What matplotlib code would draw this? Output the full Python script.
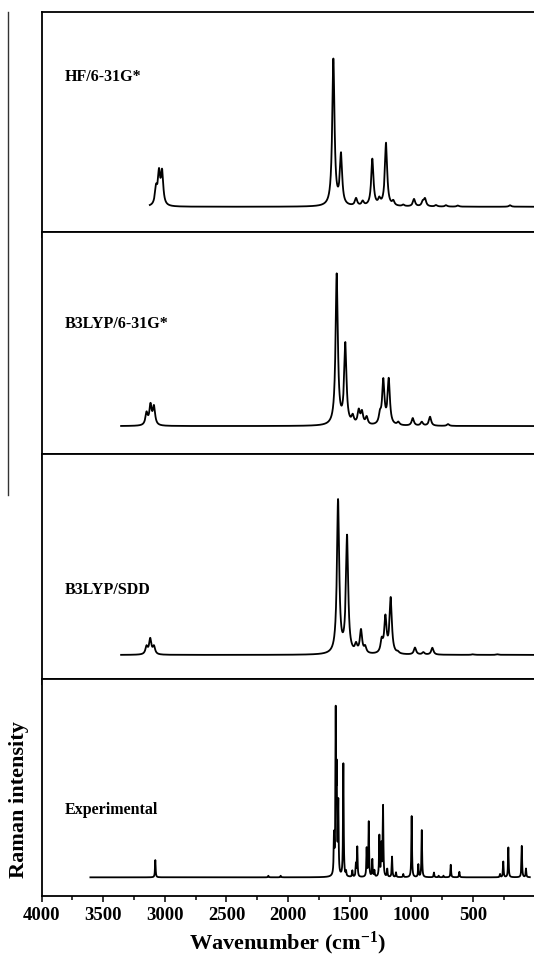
import numpy as np
import matplotlib.pyplot as plt
from matplotlib.lines import Line2D
from matplotlib.ticker import MultipleLocator

plt.rcParams['font.family'] = ['Liberation Serif', 'DejaVu Serif']
plt.rcParams['font.weight'] = 'bold'
plt.rcParams['mathtext.fontset'] = 'custom'
plt.rcParams['mathtext.rm'] = 'Liberation Serif:bold'
plt.rcParams['mathtext.default'] = 'rm'

# peak tables: centre (cm-1), relative height
hf_pos = [3071, 3047, 3022, 1633, 1571, 1449, 1395, 1317, 1260, 1206, 1147, 1066,
          979, 908, 890, 800, 719, 623, 200]
hf_amp = [0.11, 0.21, 0.22, 1.0, 0.34, 0.05, 0.03, 0.32, 0.04, 0.43, 0.03, 0.01,
          0.05, 0.03, 0.05, 0.01, 0.01, 0.008, 0.01]

b3_pos = [3148, 3116, 3088, 1606, 1536, 1476, 1427, 1401, 1363, 1255, 1228, 1184,
          1106, 989, 916, 849, 703]
b3_amp = [0.08, 0.13, 0.12, 1.0, 0.53, 0.05, 0.09, 0.08, 0.05, 0.06, 0.29, 0.30,
          0.02, 0.05, 0.025, 0.06, 0.012]

sdd_pos = [3148, 3118, 3088, 1595, 1522, 1449, 1409, 1375, 1241, 1211, 1168, 1110,
           971, 903, 830, 500, 300]
sdd_amp = [0.05, 0.10, 0.05, 1.0, 0.76, 0.05, 0.15, 0.04, 0.08, 0.23, 0.36, 0.01,
           0.045, 0.015, 0.045, 0.004, 0.004]

exp_pos = [3077, 2160, 2060, 1628, 1614, 1606, 1593, 1552, 1530, 1479, 1450, 1439,
           1363, 1346, 1317, 1300, 1260, 1244, 1230, 1196, 1157, 1125, 1066, 998,
           944, 916, 817, 779, 740, 681, 611, 281, 255, 214, 105, 71]
exp_amp = [0.11, 0.01, 0.01, 0.24, 1.0, 0.60, 0.45, 0.72, 0.03, 0.04, 0.08, 0.19,
           0.18, 0.35, 0.11, 0.04, 0.26, 0.2, 0.45, 0.05, 0.13, 0.03, 0.02, 0.39,
           0.08, 0.30, 0.03, 0.01, 0.01, 0.08, 0.035, 0.02, 0.10, 0.19, 0.20, 0.055]

labels = ['HF/6-31G*', 'B3LYP/6-31G*', 'B3LYP/SDD', 'Experimental']
ranges = [(3122, 6), (3355, 6), (3355, 6), (3604, 40)]
fwhm = [22, 22, 22, 6]
# where baseline and tallest peak sit in each panel (axes fraction)
base_frac = [0.116, 0.126, 0.107, 0.086]
top_frac = [0.79, 0.815, 0.80, 0.877]
label_y = [0.708, 0.585, 0.397, 0.398]

tables = [(hf_pos, hf_amp), (b3_pos, b3_amp), (sdd_pos, sdd_amp), (exp_pos, exp_amp)]

fig = plt.figure(figsize=(5.34, 9.6), dpi=100)
H = 960.0
edges = [12.3, 232.3, 454, 679, 896]
left = 41.5 / 534

axes = []
for i in range(4):
    bot = 1 - edges[i + 1] / H
    hgt = (edges[i + 1] - edges[i]) / H
    ax = fig.add_axes([left, bot, 1 - left, hgt])
    axes.append(ax)

    pos, amp = tables[i]
    x = np.arange(ranges[i][1], ranges[i][0], 0.5)
    y = np.zeros_like(x)
    g = fwhm[i] / 2.0
    for p, a in zip(pos, amp):
        y += a / (1 + ((x - p) / g) ** 2)
    y = y / y.max()
    ax.plot(x, y, color='black', lw=1.3)

    b, t = base_frac[i], top_frac[i]
    span = t - b
    ax.set_ylim(-b / span, (1 - b) / span)
    ax.set_xlim(4000, 6)
    ax.set_yticks([])
    ax.spines['right'].set_visible(False)
    for s in ['left', 'top', 'bottom']:
        ax.spines[s].set_linewidth(1.3)
    ax.xaxis.set_major_locator(MultipleLocator(500))
    ax.xaxis.set_minor_locator(MultipleLocator(250))
    ax.tick_params(axis='x', which='both', direction='out', width=1.1)
    ax.tick_params(axis='x', which='major', length=4)
    ax.tick_params(axis='x', which='minor', length=3)
    if i < 3:
        ax.tick_params(axis='x', which='both', labelbottom=False)
    ax.text(0.047, label_y[i], labels[i], transform=ax.transAxes,
            fontsize=11.5, fontweight='bold', va='center', ha='left')

axb = axes[3]
axb.set_xticks([4000, 3500, 3000, 2500, 2000, 1500, 1000, 500])
axb.tick_params(axis='x', which='major', labelsize=13.5, pad=4)
axb.set_xlabel('Wavenumber (cm$^{-1}$)', fontsize=16, fontweight='bold', labelpad=4)
fig.text(18.7 / 534, 1 - 800 / H, 'Raman intensity', rotation=90, fontsize=16,
         fontweight='bold', ha='center', va='center')

# stray vertical rule at the far left of the original figure
fig.add_artist(Line2D([8.3 / 534, 8.3 / 534], [1 - 12 / H, 1 - 495 / H],
                      transform=fig.transFigure, color='#333333', lw=1.0))

fig.savefig('out.png', dpi=100)
